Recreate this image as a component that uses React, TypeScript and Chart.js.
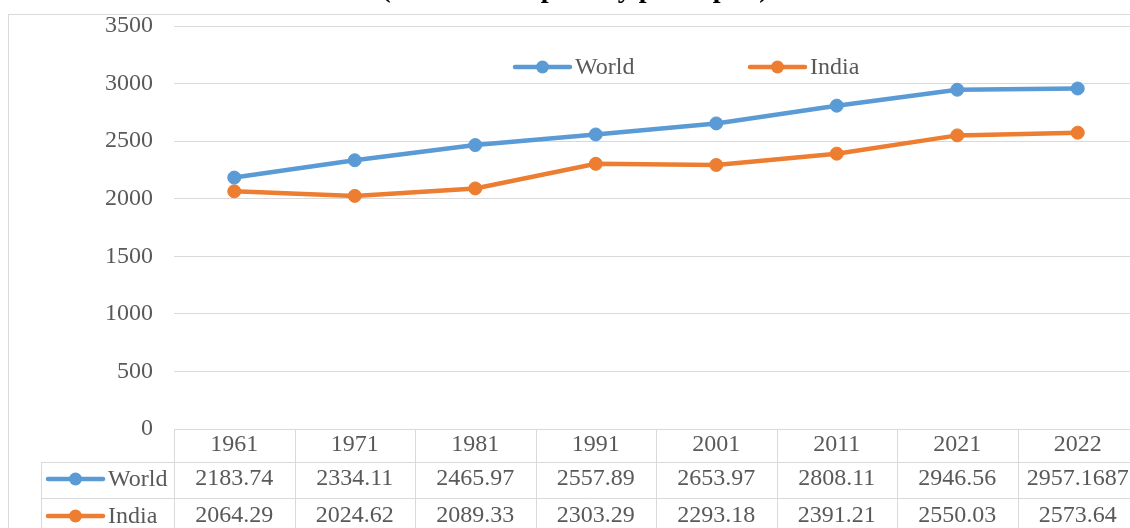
import React, { useEffect, useRef } from "react";
import { Chart, registerables } from "chart.js";

Chart.register(...registerables);

const titleText = "(Kilocalories per day per capita)";
const years = ["1961", "1971", "1981", "1991", "2001", "2011", "2021", "2022"];
const worldValues = [2183.74, 2334.11, 2465.97, 2557.89, 2653.97, 2808.11, 2946.56, 2957.1687];
const indiaValues = [2064.29, 2024.62, 2089.33, 2303.29, 2293.18, 2391.21, 2550.03, 2573.64];
const seriesNames = ["World", "India"];
const seriesColors = ["#5B9BD5", "#ED7D31"];

const OFF = 30; // canvas y = page y + OFF
const FONT = '"Liberation Serif", "Times New Roman", serif';
const GRID = "#D9D9D9";
const TEXT = "#595959";

const extras = {
  id: "extras",
  beforeDraw(chart: any) {
    const ctx = chart.ctx;
    ctx.save();
    ctx.fillStyle = "#ffffff";
    ctx.fillRect(0, 0, chart.width, chart.height);
    ctx.strokeStyle = GRID;
    ctx.lineWidth = 1;
    ctx.strokeRect(8.5, 14.5 + OFF, 3000, 3000);
    ctx.restore();
  },
  afterDraw(chart: any) {
    const ctx = chart.ctx;
    const xs = chart.scales.x;
    const area = chart.chartArea;
    ctx.save();
    // title (mostly cut off above the frame)
    ctx.fillStyle = "#000000";
    ctx.font = "bold 28px " + FONT;
    ctx.textAlign = "center";
    ctx.textBaseline = "alphabetic";
    ctx.fillText(titleText, 575, -3 + OFF);

    const drawKey = (x0: number, y: number, color: string, label: string) => {
      ctx.strokeStyle = color;
      ctx.lineWidth = 4.5;
      ctx.lineCap = "round";
      ctx.beginPath();
      ctx.moveTo(x0, y);
      ctx.lineTo(x0 + 55, y);
      ctx.stroke();
      ctx.fillStyle = color;
      ctx.beginPath();
      ctx.arc(x0 + 27.5, y, 6.5, 0, Math.PI * 2);
      ctx.fill();
      ctx.fillStyle = TEXT;
      ctx.font = "24px " + FONT;
      ctx.textAlign = "left";
      ctx.textBaseline = "middle";
      ctx.fillText(label, x0 + 60, y + 1);
    };

    // legend
    const legendX = [515, 750];
    chart.data.datasets.forEach((ds: any, i: number) => {
      drawKey(legendX[i], 67 + OFF, ds.borderColor, ds.label);
    });

    // data table
    const n = chart.data.labels.length;
    const bounds: number[] = [area.left];
    for (let i = 0; i < n - 1; i++) {
      bounds.push((xs.getPixelForValue(i) + xs.getPixelForValue(i + 1)) / 2);
    }
    bounds.push(area.right);
    const top = area.bottom;
    const r1 = 462 + OFF;
    const r2 = 498 + OFF;
    const r3 = 534 + OFF;
    const tl = 41;
    ctx.strokeStyle = GRID;
    ctx.lineWidth = 1;
    ctx.lineCap = "butt";
    ctx.beginPath();
    ctx.moveTo(area.left, Math.round(top) + 0.5);
    ctx.lineTo(area.right, Math.round(top) + 0.5);
    [r1, r2, r3].forEach((y) => {
      ctx.moveTo(tl, y + 0.5);
      ctx.lineTo(area.right, y + 0.5);
    });
    ctx.moveTo(tl + 0.5, r1);
    ctx.lineTo(tl + 0.5, r3);
    bounds.forEach((b) => {
      ctx.moveTo(Math.round(b) + 0.5, top);
      ctx.lineTo(Math.round(b) + 0.5, r3);
    });
    ctx.stroke();

    ctx.fillStyle = TEXT;
    ctx.font = "24px " + FONT;
    ctx.textAlign = "center";
    ctx.textBaseline = "middle";
    const rowsY = [479 + OFF, 516 + OFF];
    for (let i = 0; i < n; i++) {
      const cx = xs.getPixelForValue(i);
      ctx.fillText(String(chart.data.labels[i]), cx, 445 + OFF);
      chart.data.datasets.forEach((ds: any, d: number) => {
        ctx.fillText(String(ds.data[i]), cx, rowsY[d]);
      });
    }
    chart.data.datasets.forEach((ds: any, d: number) => {
      drawKey(48, rowsY[d], ds.borderColor, ds.label);
    });
    ctx.restore();
  },
};

export default function App() {
  const ref = useRef<HTMLCanvasElement | null>(null);
  useEffect(() => {
    if (!ref.current) return;
    const series = [worldValues, indiaValues];
    const chart = new Chart(ref.current, {
      type: "line",
      data: {
        labels: years,
        datasets: series.map((vals, i) => ({
          label: seriesNames[i],
          data: vals,
          borderColor: seriesColors[i],
          backgroundColor: seriesColors[i],
          pointBackgroundColor: seriesColors[i],
          pointBorderColor: seriesColors[i],
          pointBorderWidth: 1,
          pointRadius: 6.5,
          borderWidth: 4.5,
          tension: 0,
          fill: false,
        })),
      },
      options: {
        animation: false,
        responsive: false,
        devicePixelRatio: 1,
        layout: { padding: { top: 26 + OFF, bottom: 558 - (429 + OFF), left: 8, right: 12 } },
        plugins: {
          legend: { display: false },
          title: { display: false },
          tooltip: { enabled: false },
        },
        scales: {
          x: {
            display: false,
            offset: true,
          },
          y: {
            min: 0,
            max: 3500,
            ticks: {
              stepSize: 500,
              padding: 21,
              color: TEXT,
              font: { family: FONT, size: 24 },
              callback: (v: any) => String(v),
            },
            grid: { color: GRID, drawTicks: false, lineWidth: 1 },
            border: { display: false },
            afterFit: (scale: any) => {
              scale.width = 166;
            },
          },
        },
      },
      plugins: [extras],
    });
    return () => chart.destroy();
  }, []);
  return (
    <div style={{ position: "fixed", left: 0, top: 0, width: 1130, height: 528, overflow: "hidden", background: "#fff" }}>
      <canvas
        ref={ref}
        width={1150}
        height={558}
        style={{ position: "absolute", left: 0, top: -OFF, width: 1150, height: 558, display: "block" }}
      />
    </div>
  );
}
